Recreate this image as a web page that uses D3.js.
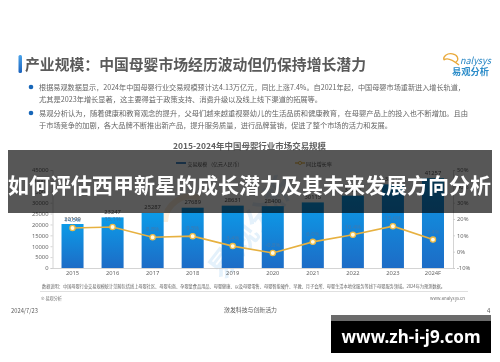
<!DOCTYPE html>
<html>
<head>
<meta charset="utf-8">
<script src="https://cdn.jsdelivr.net/npm/d3@7"></script>
<style>
  html, body { margin: 0; padding: 0; background: #fff; }
  svg { display: block; }
  text { font-family: "Noto Sans CJK SC", "Noto Sans", sans-serif; }
</style>
</head>
<body>
<svg id="chart" width="500" height="362"></svg>
<script>
// values
const years = ["2015", "2016", "2017", "2018", "2019", "2020", "2021", "2022", "2023", "2024F"];
const marketSize = [20199, 23247, 25287, 27689, 28631, 28400, 30115, 33230, 38414, 41257];
const growthRate = [14.5, 15.1, 8.8, 9.5, 3.4, -0.8, 6.0, 10.4, 15.6, 7.4];
const sizeTicks = [0, 5000, 10000, 15000, 20000, 25000, 30000, 35000, 40000, 45000];
const rateTicks = [-10, 0, 10, 20, 30, 40, 50];

const headline = "产业规模：中国母婴市场经历波动但仍保持增长潜力";
const bannerTitle = "如何评估西甲新星的成长潜力及其未来发展方向分析";
const chartTitle = "2015-2024年中国母婴行业市场交易规模";
const bodyLines = [
  ["根据易观数据显示，2024年中国母婴行业交易规模预计达4.13万亿元，同比上涨7.4%。自2021年起，中国母婴市场重新进入增长轨道，", 39, 87, 426, true],
  ["尤其是2023年增长显著，这主要得益于政策支持、消费升级以及线上线下渠道的拓展等。", 39, 99, 283, false],
  ["易观分析认为，随着健康和教育观念的提升，父母们越来越重视婴幼儿的生活品质和健康教育，在母婴产品上的投入也不断增加。且由", 39, 113, 429, true],
  ["于市场竞争的加剧，各大品牌不断推出新产品，提升服务质量，进行品牌营销，促进了整个市场的活力和发展。", 39, 125, 353, false]
];
const footnote = "数据说明：中国母婴行业交易规模统计范畴包括线上母婴社区、母婴电商、孕婴童食品用品、母婴健康、以及母婴零售、母婴智能硬件、早教、月子会所、母婴生活本地化服务等线下母婴服务领域。2024年为预测数据。";

const svg = d3.select("#chart");

const defs = svg.append("defs");
const barFill = defs.append("linearGradient").attr("id", "barFill")
  .attr("x1", 0).attr("y1", 0).attr("x2", 0).attr("y2", 1);
barFill.append("stop").attr("offset", "0%").attr("stop-color", "#0c9be8");
barFill.append("stop").attr("offset", "100%").attr("stop-color", "#1d6cc6");
const tabFill = defs.append("linearGradient").attr("id", "tabFill")
  .attr("x1", 0).attr("y1", 0).attr("x2", 0).attr("y2", 1);
tabFill.append("stop").attr("offset", "0%").attr("stop-color", "#4aa3ea");
tabFill.append("stop").attr("offset", "100%").attr("stop-color", "#1a62bd");

// the slide is a soft, scaled-down screenshot
const slide = svg.append("g").style("filter", "blur(0.6px)");

function label(g, str, x, y, size, color, opts) {
  opts = opts || {};
  const t = g.append("text")
    .attr("x", x).attr("y", y)
    .attr("dominant-baseline", "central")
    .attr("font-size", size)
    .attr("fill", color)
    .attr("font-weight", opts.weight || 400)
    .attr("text-anchor", opts.anchor || "start")
    .text(str);
  if (opts.fit) t.attr("textLength", opts.fit).attr("lengthAdjust", "spacingAndGlyphs");
  return t;
}

// header
slide.append("rect").attr("x", 18.5).attr("y", 55).attr("width", 3.5).attr("height", 18).attr("rx", 1.5).attr("fill", "url(#tabFill)");
label(slide, headline, 25, 63.5, 15, "#5a5a5a", {weight: 700, fit: 341});

// logo
slide.append("path").attr("d", "M444 60 A7 5 0 1 1 456 62 M444 60 Q448 56 459 65")
  .attr("fill", "none").attr("stroke", "#e9a93a").attr("stroke-width", 1.3);
label(slide, "nalysys", 460, 60, 9.5, "#2786c4", {fit: 31}).attr("font-style", "italic");
label(slide, "易观分析", 452, 71.5, 9, "#2b8cc9", {weight: 700, fit: 37});

// body paragraphs
bodyLines.forEach(d => {
  if (d[4]) slide.append("circle").attr("cx", 31).attr("cy", d[2]).attr("r", 2.3).attr("fill", "#1766b8");
  label(slide, d[0], d[1], d[2], 7, "#666", {fit: d[3]});
});

label(slide, chartTitle, 249.5, 145, 8, "#606060", {weight: 700, anchor: "middle", fit: 153});

// scales
const x = d3.scaleBand().domain(years).range([52.5, 453]).paddingInner(0.45).paddingOuter(0.225);
const ySize = d3.scaleLinear().domain([0, 45000]).range([268, 170]);
const yRate = d3.scaleLinear().domain([-10, 50]).range([268, 170]);
const cx = d => x(d) + x.bandwidth() / 2;

// faint watermark behind the plot
slide.append("path").attr("d", "M165 222 A26 26 0 0 1 200 198")
  .attr("fill", "none").attr("stroke", "#fbeedd").attr("stroke-width", 6);
label(slide, "易观分析", 250, 226, 30, "#e4f1fb", {anchor: "middle", weight: 700})
  .attr("transform", "rotate(-52 250 226)");

// bars
slide.append("g").selectAll("rect")
  .data(years)
  .join("rect")
    .attr("x", d => x(d))
    .attr("y", (d, i) => ySize(marketSize[i]))
    .attr("width", x.bandwidth())
    .attr("height", (d, i) => ySize(0) - ySize(marketSize[i]))
    .attr("fill", "url(#barFill)");

// axes
const axisLeft = slide.append("g").attr("transform", "translate(52.5,0)")
  .call(d3.axisLeft(ySize).tickValues(sizeTicks).tickSize(2).tickPadding(2).tickFormat(d3.format("d")));
const axisRight = slide.append("g").attr("transform", "translate(453,0)")
  .call(d3.axisRight(yRate).tickValues(rateTicks).tickSize(2).tickPadding(2).tickFormat(d => d + "%"));
const axisBottom = slide.append("g").attr("transform", "translate(0,268)")
  .call(d3.axisBottom(x).tickSize(0).tickPadding(2.5));
[axisLeft, axisRight, axisBottom].forEach(a => {
  a.selectAll("path, line").attr("stroke", "#c9c9c9").attr("stroke-width", 0.8);
  a.selectAll("text").attr("font-size", 5.8).attr("fill", "#666")
    .style("font-family", '"Noto Sans", sans-serif');
});

// bar value labels
slide.append("g").selectAll("text")
  .data(years)
  .join("text")
    .attr("x", cx)
    .attr("y", (d, i) => ySize(marketSize[i]) - 5.5)
    .attr("text-anchor", "middle")
    .attr("dominant-baseline", "central")
    .attr("font-size", 5.8)
    .attr("fill", "#555")
    .style("font-family", '"Noto Sans", sans-serif')
    .text((d, i) => marketSize[i]);

// growth line
const rateLine = d3.line().x((d, i) => cx(years[i])).y(d => yRate(d));
slide.append("path").datum(growthRate)
  .attr("d", rateLine)
  .attr("fill", "none")
  .attr("stroke", "#e7b140")
  .attr("stroke-width", 1.6);
slide.append("g").selectAll("circle")
  .data(growthRate)
  .join("circle")
    .attr("cx", (d, i) => cx(years[i]))
    .attr("cy", d => yRate(d))
    .attr("r", 2.6)
    .attr("fill", "#fffbe6")
    .attr("stroke", "#eebb45")
    .attr("stroke-width", 1.3);
slide.append("g").selectAll("text")
  .data(growthRate)
  .join("text")
    .attr("x", (d, i) => cx(years[i]))
    .attr("y", d => yRate(d) - 8)
    .attr("text-anchor", "middle")
    .attr("dominant-baseline", "central")
    .attr("font-size", 5.8)
    .attr("fill", "#3f7bb0")
    .style("font-family", '"Noto Sans", sans-serif')
    .text(d => d.toFixed(1) + "%");

// legend, mostly lost under the banner
slide.append("line").attr("x1", 176).attr("x2", 186).attr("y1", 163).attr("y2", 163)
  .attr("stroke", "#1a6fb8").attr("stroke-width", 1.6);
label(slide, "交易规模 （亿元人民币）", 187.5, 163, 5, "#555", {fit: 55});
slide.append("line").attr("x1", 295).attr("x2", 305).attr("y1", 163).attr("y2", 163)
  .attr("stroke", "#e7b140").attr("stroke-width", 1.2);
slide.append("circle").attr("cx", 300).attr("cy", 163).attr("r", 1.6).attr("fill", "#fffbe6").attr("stroke", "#e7b140").attr("stroke-width", 0.8);
label(slide, "同比增长率", 306, 163, 5, "#555", {fit: 26});

// footer
label(slide, footnote, 42, 286, 4.4, "#666", {fit: 403});
slide.append("line").attr("x1", 40).attr("x2", 468).attr("y1", 291.5).attr("y2", 291.5).attr("stroke", "#d8d8d8").attr("stroke-width", 0.8);
label(slide, "© 易观分析", 41, 297.5, 4.4, "#777", {fit: 21});
label(slide, "www.analysys.cn", 430, 297.5, 4.6, "#777", {fit: 35});
label(slide, "2024/7/23", 11, 310, 6.4, "#5a5a5a", {fit: 27});
label(slide, "激发科技与创新活力", 224, 309.5, 5.8, "#5a5a5a", {fit: 53});
label(slide, "4", 487, 310, 6, "#5a5a5a");

// dark banner over the slide
svg.append("rect").attr("x", 8).attr("y", 150).attr("width", 484).attr("height", 63)
  .attr("fill", "#000").attr("fill-opacity", 0.66);
label(svg, bannerTitle, 8, 184, 21, "#fff", {weight: 700, fit: 483});

// site stamp
svg.append("rect").attr("x", 331).attr("y", 315).attr("width", 160).attr("height", 6).attr("fill", "#6b6b6b");
svg.append("rect").attr("x", 331).attr("y", 321).attr("width", 160).attr("height", 32).attr("fill", "#000");
label(svg, "www.zh-i-j9.com", 341.5, 336.5, 17, "#fff", {weight: 700, fit: 139})
  .style("font-family", '"Noto Sans", sans-serif');
</script>
</body>
</html>
